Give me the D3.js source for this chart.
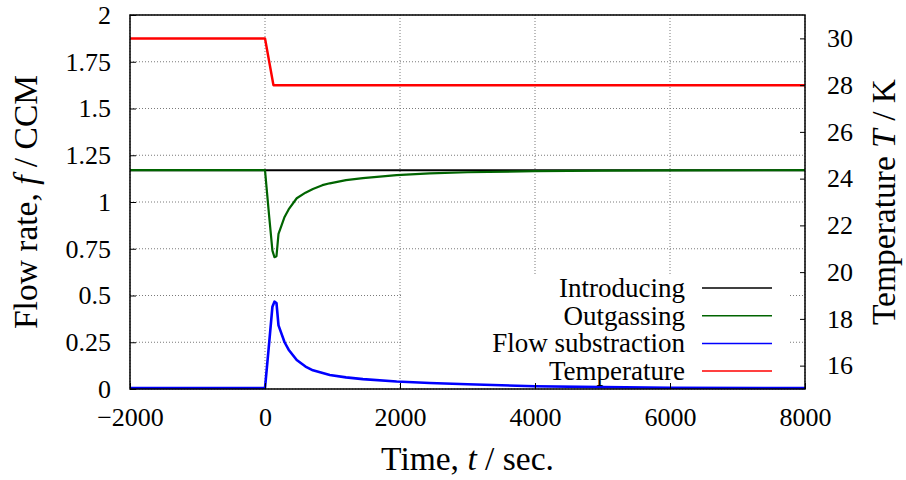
<!DOCTYPE html>
<html lang="en">
  <head>
    <meta charset="utf-8">
    <title>Flow rate and temperature</title>
    <script src="https://d3js.org/d3.v7.min.js"></script>
    <style type="text/css">
      body {
        margin: 0;
        background: white;
      }
      text {
        font-family: "Liberation Serif", "DejaVu Serif", serif;
        fill: black;
      }
      .tick text {
        font-size: 26px;
      }
      .axis-title {
        font-size: 33.5px;
      }
      .legend text {
        font-size: 27px;
      }
      .grid line {
        stroke: #7a7a7a;
        stroke-width: 1;
        stroke-dasharray: 1,2;
      }
    </style>
  </head>
  <body>
    <div id="vis"></div>

    <script type="text/javascript">

      // time (s) and flow rate (CCM)
      const introTime = [-2000, 0, 8000];
      const introFlow = [1.17, 1.17, 1.17];

      const outTime = [-2000, 0, 60, 110, 140, 170, 200, 240, 290, 350, 470, 600, 710, 850, 960,
                       1200, 1450, 1950, 2440, 3000, 4000, 5000, 6000, 8000];
      const outFlow = [1.17, 1.17, 0.93, 0.74, 0.705, 0.71, 0.83, 0.87, 0.92, 0.96, 1.02, 1.05, 1.07, 1.09, 1.10,
                       1.117, 1.128, 1.144, 1.153, 1.159, 1.165, 1.168, 1.169, 1.17];

      const subTime = [-2000, 0, 60, 110, 140, 170, 200, 240, 290, 350, 470, 600, 710, 960,
                       1200, 1450, 1950, 2440, 3000, 4000, 5000, 6000, 8000];
      const subFlow = [0.005, 0.005, 0.24, 0.44, 0.467, 0.46, 0.34, 0.30, 0.25, 0.21, 0.155, 0.12, 0.10, 0.075,
                       0.062, 0.053, 0.04, 0.032, 0.025, 0.015, 0.01, 0.007, 0.005];

      const tempTime = [-2000, 0, 125, 8000];
      const tempK = [30, 30, 28, 28];

      const xTicks = [-2000, 0, 2000, 4000, 6000, 8000];
      const yTicks = [0, 0.25, 0.5, 0.75, 1, 1.25, 1.5, 1.75, 2];
      const y2Ticks = [16, 18, 20, 22, 24, 26, 28, 30];

      const legendNames = ["Introducing", "Outgassing", "Flow substraction", "Temperature"];
      const legendColors = ["black", "#006400", "#0000ff", "#ff0000"];

      const width = 906;
      const height = 480;
      const plotLeft = 130, plotRight = 805, plotTop = 15, plotBottom = 389;

      const xScale = d3.scaleLinear().domain([-2000, 8000]).range([plotLeft, plotRight]);
      const yScale = d3.scaleLinear().domain([0, 2]).range([plotBottom, plotTop]);
      const y2Scale = d3.scaleLinear().domain([15, 31]).range([plotBottom, plotTop]);

      const svg = d3.select("#vis")
                    .append("svg")
                    .attr("width", width)
                    .attr("height", height);

      // grid
      const grid = svg.append("g").attr("class", "grid");
      grid.selectAll(".gx")
          .data(xTicks)
          .enter()
          .append("line")
          .attr("x1", d => xScale(d)).attr("x2", d => xScale(d))
          .attr("y1", plotTop).attr("y2", plotBottom);
      grid.selectAll(".gy")
          .data(yTicks)
          .enter()
          .append("line")
          .attr("x1", plotLeft).attr("x2", plotRight)
          .attr("y1", d => yScale(d)).attr("y2", d => yScale(d));

      // key background hides the grid behind it
      svg.append("rect")
         .attr("x", 403)
         .attr("y", 274)
         .attr("width", 386)
         .attr("height", 112)
         .attr("fill", "white");

      const flowLine = d3.line()
                         .x(d => xScale(d[0]))
                         .y(d => yScale(d[1]));
      const tempLine = d3.line()
                         .x(d => xScale(d[0]))
                         .y(d => y2Scale(d[1]));

      const curves = [
        {t: introTime, v: introFlow, gen: flowLine, color: legendColors[0], w: 2},
        {t: outTime, v: outFlow, gen: flowLine, color: legendColors[1], w: 2.2},
        {t: subTime, v: subFlow, gen: flowLine, color: legendColors[2], w: 2.6},
        {t: tempTime, v: tempK, gen: tempLine, color: legendColors[3], w: 2.5}
      ];

      curves.forEach(c => {
        svg.append("path")
           .datum(d3.zip(c.t, c.v))
           .attr("fill", "none")
           .attr("stroke", c.color)
           .attr("stroke-width", c.w)
           .attr("stroke-linejoin", "round")
           .attr("d", c.gen);
      });

      // axes
      const bottomAxis = d3.axisBottom(xScale)
                           .tickValues(xTicks)
                           .tickFormat(d3.format("d"))
                           .tickSizeInner(-6)
                           .tickSizeOuter(0)
                           .tickPadding(18.5);
      const leftAxis = d3.axisLeft(yScale)
                         .tickValues(yTicks)
                         .tickFormat(d3.format("~g"))
                         .tickSizeInner(-6)
                         .tickSizeOuter(0)
                         .tickPadding(19);
      const rightAxis = d3.axisRight(y2Scale)
                          .tickValues(y2Ticks)
                          .tickSizeInner(-5)
                          .tickSizeOuter(0)
                          .tickPadding(22);

      svg.append("g")
         .attr("transform", "translate(0," + plotBottom + ")")
         .call(bottomAxis)
         .call(g => g.select(".domain").remove());
      svg.append("g")
         .attr("transform", "translate(" + plotLeft + ",0)")
         .call(leftAxis)
         .call(g => g.select(".domain").remove());
      svg.append("g")
         .attr("transform", "translate(" + plotRight + ",0)")
         .call(rightAxis)
         .call(g => g.select(".domain").remove());

      svg.selectAll(".tick line")
         .attr("stroke", "black")
         .attr("stroke-width", 1);

      // frame
      svg.append("rect")
         .attr("x", plotLeft)
         .attr("y", plotTop)
         .attr("width", plotRight - plotLeft)
         .attr("height", plotBottom - plotTop)
         .attr("fill", "none")
         .attr("stroke", "black")
         .attr("stroke-width", 1.5);

      // key
      const legend = svg.append("g").attr("class", "legend");
      const rows = legend.selectAll("g")
                         .data(legendNames)
                         .enter()
                         .append("g")
                         .attr("transform", (d, i) => "translate(0," + (288 + i * 27.7) + ")");
      rows.append("text")
          .attr("x", 685)
          .attr("dy", "0.33em")
          .attr("text-anchor", "end")
          .text(d => d);
      rows.append("line")
          .attr("x1", 702)
          .attr("x2", 772)
          .attr("stroke", (d, i) => legendColors[i])
          .attr("stroke-width", 1.5);

      // axis titles
      const xt = svg.append("text")
                    .attr("class", "axis-title")
                    .attr("x", (plotLeft + plotRight) / 2)
                    .attr("y", 470)
                    .attr("text-anchor", "middle");
      xt.append("tspan").text("Time, ");
      xt.append("tspan").attr("font-style", "italic").text("t");
      xt.append("tspan").text(" / sec.");

      const yt = svg.append("text")
                    .attr("class", "axis-title")
                    .attr("transform", "translate(37," + (plotTop + plotBottom) / 2 + ") rotate(-90)")
                    .attr("text-anchor", "middle");
      yt.append("tspan").text("Flow rate, ");
      yt.append("tspan").attr("font-style", "italic").text("f");
      yt.append("tspan").text(" / CCM");

      const y2t = svg.append("text")
                     .attr("class", "axis-title")
                     .attr("transform", "translate(895," + (plotTop + plotBottom) / 2 + ") rotate(-90)")
                     .attr("text-anchor", "middle");
      y2t.append("tspan").text("Temperature ");
      y2t.append("tspan").attr("font-style", "italic").text("T");
      y2t.append("tspan").text(" / K");

    </script>
  </body>
</html>
